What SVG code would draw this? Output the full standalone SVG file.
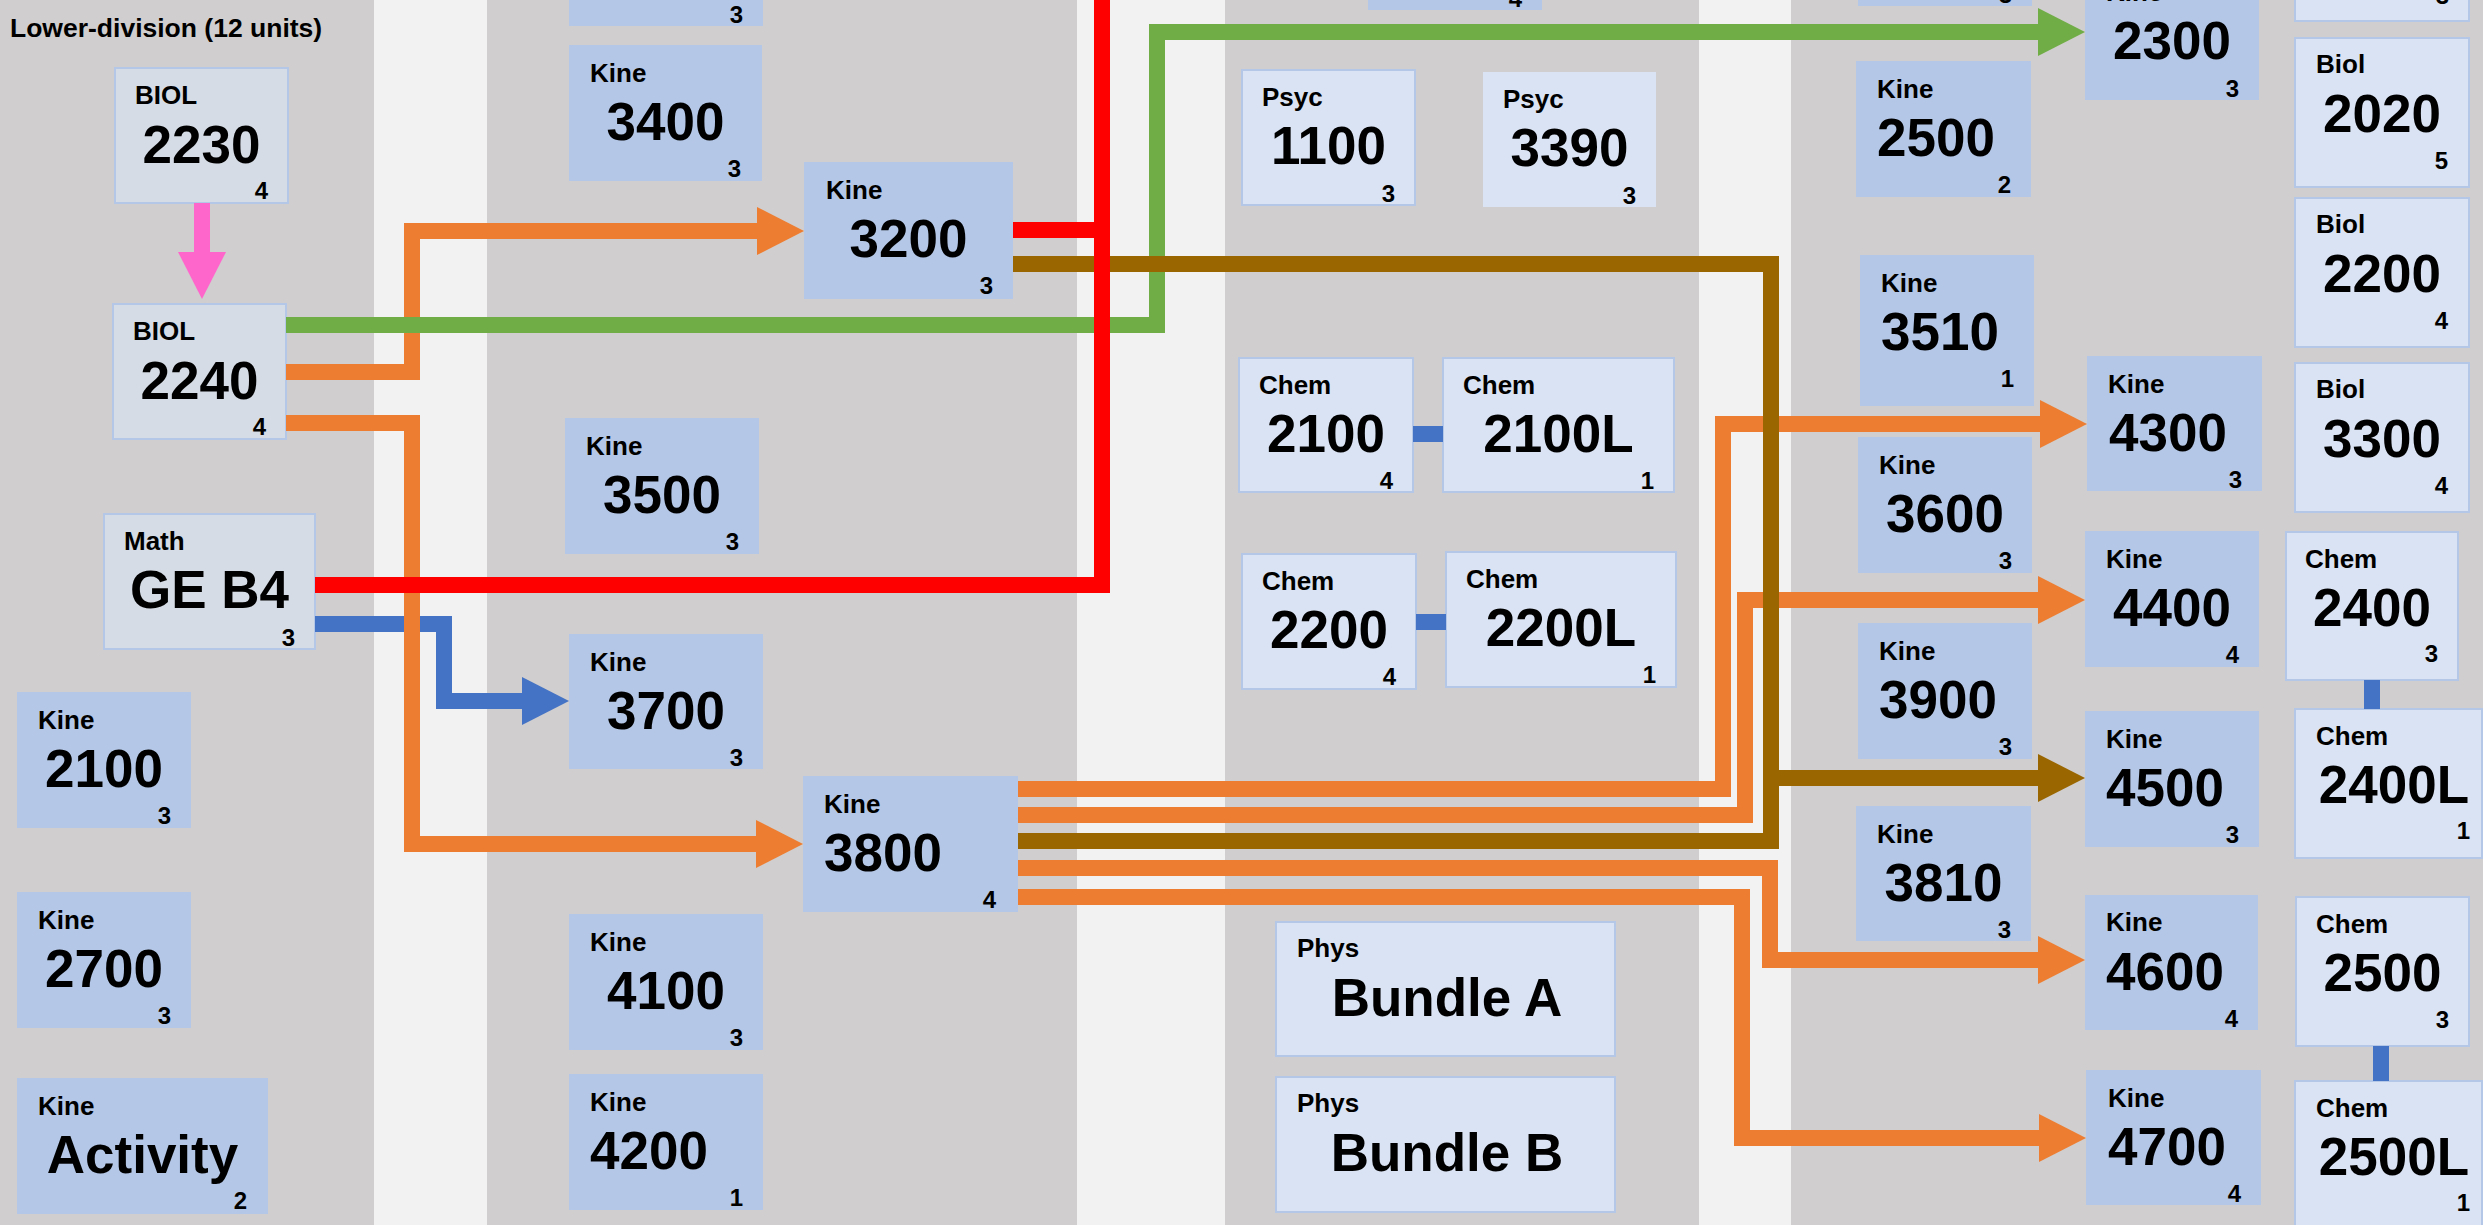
<svg xmlns="http://www.w3.org/2000/svg" width="2483" height="1225" viewBox="0 0 2483 1225">
<style>
.bg{fill:#d0cece}.bl{fill:#f2f2f2}
.k{fill:#b4c7e7}
.l{fill:#dae3f3;stroke:#b4c7e7;stroke-width:2}
.l0{fill:#d6dce5;stroke:#b4c7e7;stroke-width:2}
.l1{fill:#dae3f3}
text{font-family:"Liberation Sans",Arial,sans-serif;font-weight:bold;fill:#000}
.t{font-size:26.5px}
.lb{font-size:26px}
.nm{font-size:53px;text-anchor:middle}
.nl{font-size:53px}
.u{font-size:24px;text-anchor:end}
.c{fill:none;stroke-width:16;stroke-linejoin:miter;stroke-linecap:butt}
.or{stroke:#ed7d31}.gr{stroke:#70ad47}.rd{stroke:#ff0000}.br{stroke:#996600}.bu{stroke:#4472c4}.pk{stroke:#ff66cc}
</style>
<defs>
<marker id="a-or" markerUnits="userSpaceOnUse" markerWidth="47" markerHeight="48" viewBox="0 0 47 48" refX="0" refY="24" orient="auto"><path d="M0,0L47,24L0,48Z" fill="#ed7d31"/></marker>
<marker id="a-gr" markerUnits="userSpaceOnUse" markerWidth="47" markerHeight="48" viewBox="0 0 47 48" refX="0" refY="24" orient="auto"><path d="M0,0L47,24L0,48Z" fill="#70ad47"/></marker>
<marker id="a-br" markerUnits="userSpaceOnUse" markerWidth="47" markerHeight="48" viewBox="0 0 47 48" refX="0" refY="24" orient="auto"><path d="M0,0L47,24L0,48Z" fill="#996600"/></marker>
<marker id="a-bu" markerUnits="userSpaceOnUse" markerWidth="47" markerHeight="48" viewBox="0 0 47 48" refX="0" refY="24" orient="auto"><path d="M0,0L47,24L0,48Z" fill="#4472c4"/></marker>
<marker id="a-pk" markerUnits="userSpaceOnUse" markerWidth="47" markerHeight="48" viewBox="0 0 47 48" refX="0" refY="24" orient="auto"><path d="M0,0L47,24L0,48Z" fill="#ff66cc"/></marker>
</defs>
<g id="background">
<rect class="bg" x="0" y="0" width="374" height="1225"/>
<rect class="bl" x="374" y="0" width="113" height="1225"/>
<rect class="bg" x="487" y="0" width="590" height="1225"/>
<rect class="bl" x="1077" y="0" width="148" height="1225"/>
<rect class="bg" x="1225" y="0" width="474" height="1225"/>
<rect class="bl" x="1699" y="0" width="92" height="1225"/>
<rect class="bg" x="1791" y="0" width="692" height="1225"/>
<text class="t" x="10" y="37">Lower-division (12 units)</text>
</g>
<g id="nodes">
<g id="n-biol-2230" transform="translate(115,68)"><rect class="l0" width="173" height="135"/><text class="lb" x="20" y="36">BIOL</text><text class="nm" x="86.5" y="95">2230</text><text class="u" x="153" y="131">4</text></g>
<g id="n-biol-2240" transform="translate(113,304)"><rect class="l0" width="173" height="135"/><text class="lb" x="20" y="36">BIOL</text><text class="nm" x="86.5" y="95">2240</text><text class="u" x="153" y="131">4</text></g>
<g id="n-math-geb4" transform="translate(104,514)"><rect class="l0" width="211" height="135"/><text class="lb" x="20" y="36">Math</text><text class="nm" x="105.5" y="94">GE B4</text><text class="u" x="191" y="132">3</text></g>
<g id="n-kine-2100" transform="translate(17,692)"><rect class="k" width="174" height="136"/><text class="lb" x="21" y="37">Kine</text><text class="nm" x="87" y="95">2100</text><text class="u" x="154" y="132">3</text></g>
<g id="n-kine-2700" transform="translate(17,892)"><rect class="k" width="174" height="136"/><text class="lb" x="21" y="37">Kine</text><text class="nm" x="87" y="95">2700</text><text class="u" x="154" y="132">3</text></g>
<g id="n-kine-activity" transform="translate(17,1078)"><rect class="k" width="251" height="136"/><text class="lb" x="21" y="37">Kine</text><text class="nm" x="125.5" y="95">Activity</text><text class="u" x="230" y="131">2</text></g>

<g id="n-kine-top2" transform="translate(569,-110)"><rect class="k" width="194" height="136"/><text class="u" x="174" y="133">3</text></g>
<g id="n-kine-3400" transform="translate(569,45)"><rect class="k" width="193" height="136"/><text class="lb" x="21" y="37">Kine</text><text class="nm" x="96.5" y="95">3400</text><text class="u" x="172" y="132">3</text></g>
<g id="n-kine-3200" transform="translate(804,162)"><rect class="k" width="209" height="137"/><text class="lb" x="22" y="37">Kine</text><text class="nm" x="104.5" y="95">3200</text><text class="u" x="189" y="132">3</text></g>
<g id="n-kine-3500" transform="translate(565,418)"><rect class="k" width="194" height="136"/><text class="lb" x="21" y="37">Kine</text><text class="nm" x="97" y="95">3500</text><text class="u" x="174" y="132">3</text></g>
<g id="n-kine-3700" transform="translate(569,634)"><rect class="k" width="194" height="135"/><text class="lb" x="21" y="37">Kine</text><text class="nm" x="97" y="95">3700</text><text class="u" x="174" y="132">3</text></g>
<g id="n-kine-3800" transform="translate(803,776)"><rect class="k" width="215" height="136"/><text class="lb" x="21" y="37">Kine</text><text class="nl" x="21" y="95">3800</text><text class="u" x="193" y="132">4</text></g>
<g id="n-kine-4100" transform="translate(569,914)"><rect class="k" width="194" height="136"/><text class="lb" x="21" y="37">Kine</text><text class="nm" x="97" y="95">4100</text><text class="u" x="174" y="132">3</text></g>
<g id="n-kine-4200" transform="translate(569,1074)"><rect class="k" width="194" height="136"/><text class="lb" x="21" y="37">Kine</text><text class="nl" x="21" y="95">4200</text><text class="u" x="174" y="132">1</text></g>

<g id="n-top3" transform="translate(1368,-125)"><rect class="k" width="174" height="135"/><text class="u" x="154" y="132">4</text></g>
<g id="n-psyc-1100" transform="translate(1242,70)"><rect class="l" width="173" height="135"/><text class="lb" x="20" y="36">Psyc</text><text class="nm" x="86.5" y="94">1100</text><text class="u" x="153" y="132">3</text></g>
<g id="n-psyc-3390" transform="translate(1483,72)"><rect class="l1" width="173" height="135"/><text class="lb" x="20" y="36">Psyc</text><text class="nm" x="86.5" y="94">3390</text><text class="u" x="153" y="132">3</text></g>
<g id="n-chem-2100" transform="translate(1239,358)"><rect class="l" width="174" height="134"/><text class="lb" x="20" y="36">Chem</text><text class="nm" x="87" y="94">2100</text><text class="u" x="154" y="131">4</text></g>
<g id="n-chem-2100l" transform="translate(1443,358)"><rect class="l" width="231" height="134"/><text class="lb" x="20" y="36">Chem</text><text class="nm" x="115.5" y="94">2100L</text><text class="u" x="211" y="131">1</text></g>
<g id="n-chem-2200" transform="translate(1242,554)"><rect class="l" width="174" height="135"/><text class="lb" x="20" y="36">Chem</text><text class="nm" x="87" y="94">2200</text><text class="u" x="154" y="131">4</text></g>
<g id="n-chem-2200l" transform="translate(1446,552)"><rect class="l" width="230" height="135"/><text class="lb" x="20" y="36">Chem</text><text class="nm" x="115" y="94">2200L</text><text class="u" x="210" y="131">1</text></g>
<g id="n-phys-a" transform="translate(1276,922)"><rect class="l" width="339" height="134"/><text class="lb" x="21" y="35">Phys</text><text class="nm" x="171" y="94">Bundle A</text></g>
<g id="n-phys-b" transform="translate(1276,1077)"><rect class="l" width="339" height="135"/><text class="lb" x="21" y="35">Phys</text><text class="nm" x="171" y="94">Bundle B</text></g>

<g id="n-top4a" transform="translate(1858,-130)"><rect class="k" width="174" height="136"/><text class="u" x="154" y="133">3</text></g>
<g id="n-kine-2300" transform="translate(2085,-36)"><rect class="k" width="174" height="136"/><text class="lb" x="21" y="37">Kine</text><text class="nm" x="87" y="95">2300</text><text class="u" x="154" y="133">3</text></g>
<g id="n-kine-2500" transform="translate(1856,61)"><rect class="k" width="175" height="136"/><text class="lb" x="21" y="37">Kine</text><text class="nl" x="21" y="95">2500</text><text class="u" x="155" y="132">2</text></g>
<g id="n-kine-3510" transform="translate(1860,255)"><rect class="k" width="174" height="151"/><text class="lb" x="21" y="37">Kine</text><text class="nl" x="21" y="95">3510</text><text class="u" x="154" y="132">1</text></g>
<g id="n-kine-3600" transform="translate(1858,437)"><rect class="k" width="174" height="136"/><text class="lb" x="21" y="37">Kine</text><text class="nm" x="87" y="95">3600</text><text class="u" x="154" y="132">3</text></g>
<g id="n-kine-3900" transform="translate(1858,623)"><rect class="k" width="174" height="136"/><text class="lb" x="21" y="37">Kine</text><text class="nl" x="21" y="95">3900</text><text class="u" x="154" y="132">3</text></g>
<g id="n-kine-3810" transform="translate(1856,806)"><rect class="k" width="175" height="135"/><text class="lb" x="21" y="37">Kine</text><text class="nm" x="87.5" y="95">3810</text><text class="u" x="155" y="132">3</text></g>
<g id="n-kine-4300" transform="translate(2087,356)"><rect class="k" width="175" height="135"/><text class="lb" x="21" y="37">Kine</text><text class="nl" x="22" y="95">4300</text><text class="u" x="155" y="132">3</text></g>
<g id="n-kine-4400" transform="translate(2085,531)"><rect class="k" width="174" height="136"/><text class="lb" x="21" y="37">Kine</text><text class="nm" x="87" y="95">4400</text><text class="u" x="154" y="132">4</text></g>
<g id="n-kine-4500" transform="translate(2085,711)"><rect class="k" width="174" height="136"/><text class="lb" x="21" y="37">Kine</text><text class="nl" x="21" y="95">4500</text><text class="u" x="154" y="132">3</text></g>
<g id="n-kine-4600" transform="translate(2085,895)"><rect class="k" width="173" height="135"/><text class="lb" x="21" y="36">Kine</text><text class="nl" x="21" y="95">4600</text><text class="u" x="153" y="132">4</text></g>
<g id="n-kine-4700" transform="translate(2086,1070)"><rect class="k" width="175" height="135"/><text class="lb" x="22" y="37">Kine</text><text class="nl" x="22" y="95">4700</text><text class="u" x="155" y="132">4</text></g>
<g id="n-top4b" transform="translate(2295,-127)"><rect class="l" width="174" height="148"/><text class="u" x="154" y="131">3</text></g>
<g id="n-biol-2020" transform="translate(2295,38)"><rect class="l" width="174" height="149"/><text class="lb" x="21" y="35">Biol</text><text class="nm" x="87" y="94">2020</text><text class="u" x="153" y="131">5</text></g>
<g id="n-biol-2200" transform="translate(2295,198)"><rect class="l" width="174" height="149"/><text class="lb" x="21" y="35">Biol</text><text class="nm" x="87" y="94">2200</text><text class="u" x="153" y="131">4</text></g>
<g id="n-biol-3300" transform="translate(2295,363)"><rect class="l" width="174" height="149"/><text class="lb" x="21" y="35">Biol</text><text class="nm" x="87" y="94">3300</text><text class="u" x="153" y="131">4</text></g>
<g id="n-chem-2400" transform="translate(2286,532)"><rect class="l" width="172" height="148"/><text class="lb" x="19" y="36">Chem</text><text class="nm" x="86" y="94">2400</text><text class="u" x="152" y="130">3</text></g>
<g id="n-chem-2400l" transform="translate(2295,709)"><rect class="l" width="187" height="149"/><text class="lb" x="21" y="36">Chem</text><text class="nm" x="99" y="94">2400L</text><text class="u" x="175" y="130">1</text></g>
<g id="n-chem-2500" transform="translate(2296,897)"><rect class="l" width="173" height="149"/><text class="lb" x="20" y="36">Chem</text><text class="nm" x="86.5" y="94">2500</text><text class="u" x="153" y="131">3</text></g>
<g id="n-chem-2500l" transform="translate(2295,1081)"><rect class="l" width="187" height="160"/><text class="lb" x="21" y="36">Chem</text><text class="nm" x="99" y="94">2500L</text><text class="u" x="175" y="130">1</text></g>
</g>
<g id="connectors">
<path class="c pk" d="M202,203V252" marker-end="url(#a-pk)"/>
<path class="c bu" d="M315,624H444V701H522" marker-end="url(#a-bu)"/>
<path class="c or" d="M286,372H412V231H757" marker-end="url(#a-or)"/>
<path class="c or" d="M286,423H412V844H756" marker-end="url(#a-or)"/>
<path class="c gr" d="M286,325H1157V32H2038" marker-end="url(#a-gr)"/>
<path class="c or" d="M1018,789H1723V424H2040" marker-end="url(#a-or)"/>
<path class="c or" d="M1018,815H1745V600H2038" marker-end="url(#a-or)"/>
<path class="c or" d="M1018,868H1770V960H2038" marker-end="url(#a-or)"/>
<path class="c or" d="M1018,897H1742V1138H2039" marker-end="url(#a-or)"/>
<path class="c br" d="M1013,264H1771V778H2038" marker-end="url(#a-br)"/>
<path class="c br" d="M1018,841H1771V778"/>
<path class="c rd" d="M315,585H1102V-20"/>
<path class="c rd" d="M1013,230H1102"/>
<path class="c bu" d="M1413,434H1443"/>
<path class="c bu" d="M1416,622H1446"/>
<path class="c bu" d="M2372,680V709"/>
<path class="c bu" d="M2381,1046V1081"/>
</g>
</svg>
